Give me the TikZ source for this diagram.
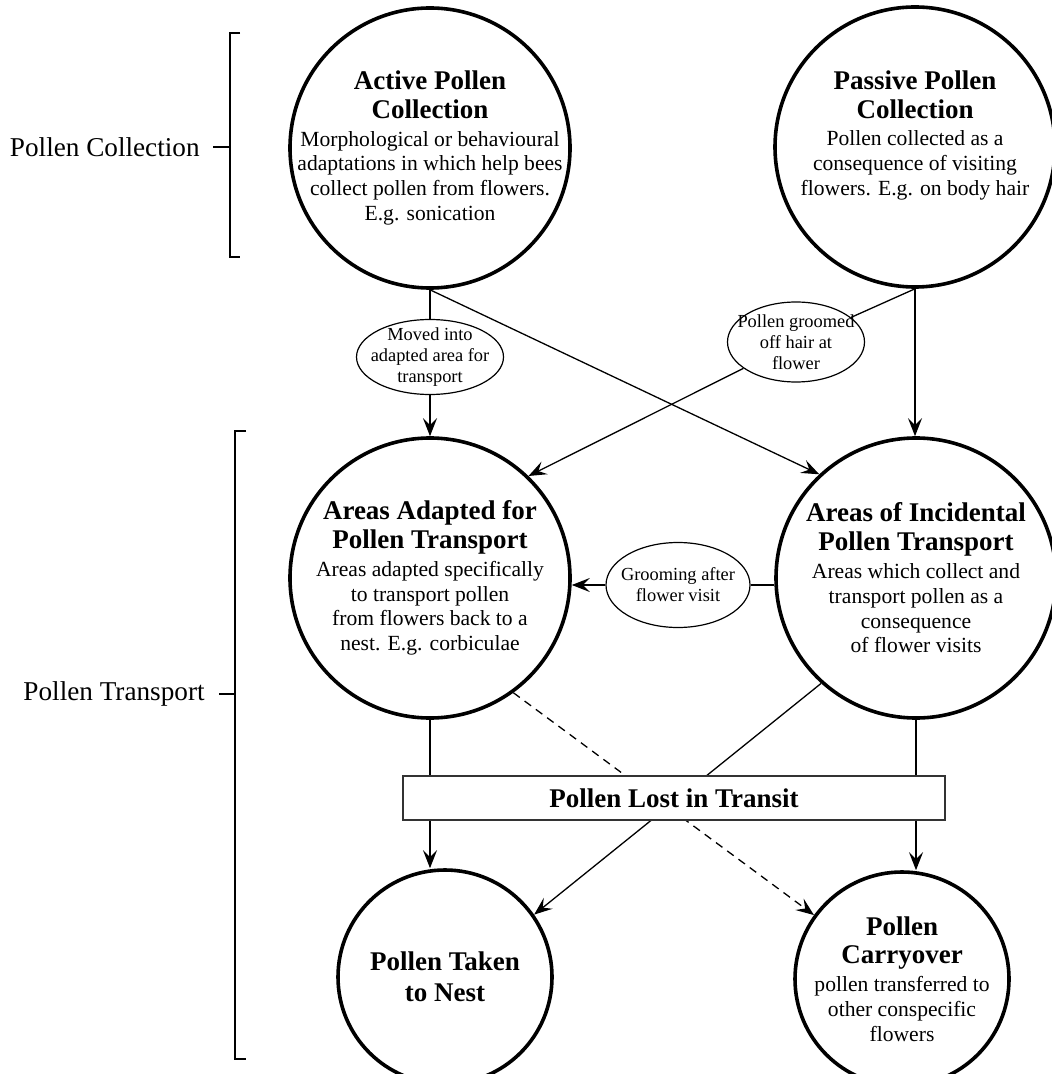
\documentclass[tikz,border=0pt]{standalone}
\usepackage{fontspec}
\setmainfont{Liberation Serif}
\usetikzlibrary{arrows.meta,shapes.geometric}
\newcommand{\ttlfont}{\fontsize{13.5pt}{15pt}\selectfont\bfseries}
\newcommand{\txtfont}{\fontsize{10.8pt}{12.4pt}\selectfont\mdseries}
\newcommand{\smlfont}{\fontsize{9.2pt}{10.5pt}\selectfont}
\tikzset{
  stagenode/.style = {circle, draw=black, line width=1.8pt, align=center,
    inner sep=-15pt, minimum size=140pt, font=\txtfont},% big circle
  endnode/.style = {stagenode, minimum size=107pt},% lower circle
  vianode/.style = {ellipse, draw=black, line width=0.6pt, align=center,
    inner sep=-6pt, font=\smlfont},% small ellipse
  lossbox/.style = {rectangle, draw=black!80, fill=white, line width=0.7pt,
    minimum width=271pt, minimum height=22pt, font=\ttlfont},
  sidelabel/.style = {anchor=east, inner sep=0pt,
    font=\fontsize{13.6pt}{15pt}\selectfont},
  link/.style = {line width=0.65pt}
}

\begin{document}
\begin{tikzpicture}[x=0.5pt,y=-0.5pt,>={Stealth[length=9pt,width=7pt,inset=3.5pt]}]
\useasboundingbox (0,0) rectangle (1052,1074);

% collection stage
\node [stagenode] (act) at (430,148) {\ttlfont Active Pollen\\[2pt] \ttlfont Collection\\[1.5pt]
  \txtfont Morphological or behavioural\\ adaptations in which help bees\\
  collect pollen from flowers.\\ E.g. sonication};
\node [stagenode] (pas) at (915,147) {\ttlfont Passive Pollen\\[2pt] \ttlfont Collection\\[1.5pt]
  \txtfont Pollen collected as a\\ consequence of visiting\\ flowers. E.g. on body hair\\[1.6pt] \mbox{}};

% transport stage
\node [stagenode] (adp) at (430,578) {\ttlfont Areas Adapted for\\[2pt] \ttlfont Pollen Transport\\[1.5pt]
  \txtfont Areas adapted specifically\\ to transport pollen\\
  from flowers back to a\\ nest. E.g. corbiculae};
\node [stagenode] (inc) at (916,578) {\ttlfont Areas of Incidental\\[2pt] \ttlfont Pollen Transport\\[1.5pt]
  \txtfont Areas which collect and\\ transport pollen as a\\ consequence\\ of flower visits};

% outcomes
\node [endnode] (nst) at (445,977) {\ttlfont Pollen Taken\\[3pt] \ttlfont to Nest};
\node [endnode] (cry) at (902,979) {\ttlfont Pollen\\[2pt] \ttlfont Carryover\\[1.5pt]
  \txtfont pollen transferred to\\ other conspecific\\ flowers};

% ellipses on the links
\node [vianode, minimum width=73.5pt, minimum height=37.5pt] (mv) at (430,357)
  {Moved into\\ adapted area for\\ transport};
\node [vianode, minimum width=68.5pt, minimum height=40pt] (gr) at (796,342)
  {Pollen groomed\\ off hair at\\ flower};
\node [vianode, minimum width=72pt, minimum height=42.5pt] (grm) at (678,585)
  {Grooming after\\ flower visit};

\draw [link] (act.south) -- (mv);
\draw [link,->] (mv) -- (adp);
\draw [link,->] (act.south) -- (inc.133);
\draw [link] (pas.south) -- (gr);
\draw [link,->] (gr) -- (adp.46);
\draw [link,->] (pas.south) -- (pas.south |- inc.north);
\draw [link] (grm -| inc.west) -- (grm);
\draw [link,->] (grm) -- (grm -| adp.east);

% lines passing under the box
\draw [link,->] (inc.228) -- (nst.35);
\draw [link,dash pattern=on 4pt off 3pt,->] (adp.306) -- (cry.144);

\node [lossbox] (lost) at (674,798) {Pollen Lost in Transit};
\draw [link] (adp.south) -- (adp.south |- lost.north);
\draw [link,->] (adp.south |- lost.south) -- (adp.south |- nst.north);
\draw [link] (inc.south) -- (inc.south |- lost.north);
\draw [link,->] (inc.south |- lost.south) -- (inc.south |- cry.north);

% brackets
\node [sidelabel] (lcol) at (200,147) {Pollen Collection};
\coordinate (ctop) at (240,33);
\coordinate (cbot) at (240,257);
\coordinate (cmid) at (230,147);
\draw [link] (ctop) -| (cmid) |- (cbot);
\draw [link] ([xshift=6.5pt]lcol.east) -- (cmid);

\node [sidelabel] (ltra) at (205,694) {Pollen Transport};
\coordinate (ttop) at (246,431);
\coordinate (tbot) at (246,1059);
\coordinate (tmid) at (235,694);
\draw [link] (ttop) -| (tmid) |- (tbot);
\draw [link] ([xshift=7pt]ltra.east) -- (tmid);
\end{tikzpicture}
\end{document}
